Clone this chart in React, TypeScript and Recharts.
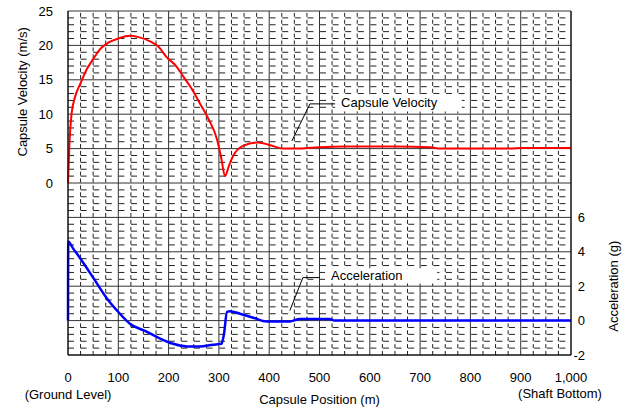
import { ComposedChart, Line, XAxis, YAxis, ReferenceLine, ReferenceArea } from "recharts";

// capsule velocity (m/s) vs position (m)
const velPos = [0, 3, 7, 14, 25, 37, 50, 63, 80, 100, 123, 140, 163, 180, 196, 215, 229, 245, 262, 280, 296, 305, 312, 320, 328, 348, 378, 402, 427, 461, 500, 550, 650, 720, 740, 880, 900, 1000];
const velocity = [0, 6, 10, 12.5, 14.5, 16.5, 18, 19.4, 20.4, 21, 21.4, 21.2, 20.6, 19.8, 18.3, 17, 15.5, 13.8, 11.6, 9.2, 6.4, 3.5, 1, 2.5, 3.9, 5.4, 5.9, 5.5, 5.0, 5.0, 5.2, 5.3, 5.3, 5.2, 5.0, 5.0, 5.1, 5.1];

// acceleration (g) vs position (m)
const accPos = [0, 0.5, 10, 20, 34, 50, 77, 100, 123, 157, 180, 209, 236, 262, 288, 305, 310, 316, 322, 342, 370, 395, 441, 461, 520, 530, 1000];
const acceleration = [0, 4.6, 4.2, 3.8, 3.2, 2.5, 1.3, 0.5, -0.18, -0.65, -1.0, -1.35, -1.5, -1.5, -1.4, -1.35, -0.8, 0.5, 0.55, 0.4, 0.15, -0.05, -0.05, 0.1, 0.1, 0, 0];

const xTicks = [0, 100, 200, 300, 400, 500, 600, 700, 800, 900, 1000];
const velTicks = [0, 5, 10, 15, 20, 25];
const accTicks = [-2, 0, 2, 4, 6];

const velData = velPos.map((x, i) => ({ x, v: velocity[i] }));
const accData = accPos.map((x, i) => ({ x, a: acceleration[i] }));

// grid positions (data units)
const majorX = xTicks;
const minorX: number[] = [];
for (let m = 25; m < 1000; m += 25) if (m % 100 !== 0) minorX.push(m);
const majorY: number[] = [];
const minorY: number[] = [];
for (let v = -25; v <= 25; v++) (v % 5 === 0 ? majorY : minorY).push(v);

const FONT = "'Liberation Sans', Arial, sans-serif";
const tickStyle = { fontSize: 13, fill: "#000", fontFamily: FONT };

function XTick({ x, y, payload }: any) {
  const val = payload.value;
  return (
    <g>
      <text x={x} y={y} dy="0.71em" textAnchor="middle" {...tickStyle}>
        {val.toLocaleString("en-US")}
      </text>
      {val === 0 && (
        <text x={x} y={y + 17} dy="0.71em" textAnchor="middle" {...tickStyle}>
          (Ground Level)
        </text>
      )}
      {val === 1000 && (
        <text x={x - 11} y={y + 16} dy="0.71em" textAnchor="middle" {...tickStyle}>
          (Shaft Bottom)
        </text>
      )}
    </g>
  );
}

function LeftTitle({ viewBox }: any) {
  const cx = viewBox.x + 22;
  const cy = viewBox.y + viewBox.height * 0.235;
  return (
    <text x={cx} y={cy} dy="0.35em" textAnchor="middle" transform={`rotate(-90 ${cx} ${cy})`} {...tickStyle}>
      Capsule Velocity (m/s)
    </text>
  );
}

function RightTitle({ viewBox }: any) {
  const cx = viewBox.x + 42;
  const cy = viewBox.y + viewBox.height * 0.8;
  return (
    <text x={cx} y={cy} dy="0.35em" textAnchor="middle" transform={`rotate(-90 ${cx} ${cy})`} {...tickStyle}>
      Acceleration (g)
    </text>
  );
}

export default function App() {
  return (
    <div style={{ position: "absolute", left: 0, top: 0, fontFamily: FONT, background: "#fff" }}>
      <ComposedChart width={630} height={411} margin={{ top: 11, right: 0, left: 0, bottom: 0 }}>
        <XAxis
          type="number"
          dataKey="x"
          domain={[0, 1000]}
          ticks={xTicks}
          height={56}
          tickSize={0}
          tickMargin={18}
          tickLine={false}
          axisLine={{ stroke: "#000" }}
          tick={<XTick />}
          interval={0}
          label={{ value: "Capsule Position (m)", position: "insideBottom", offset: 7, ...tickStyle }}
        />
        <YAxis
          yAxisId="v"
          type="number"
          domain={[-25, 25]}
          ticks={velTicks}
          width={68}
          tickSize={0}
          tickMargin={15}
          tickLine={false}
          axisLine={{ stroke: "#000" }}
          tick={tickStyle}
          interval={0}
          label={<LeftTitle />}
        />
        <YAxis
          yAxisId="a"
          orientation="right"
          type="number"
          domain={[-2, 18]}
          ticks={accTicks}
          width={59}
          tickSize={0}
          tickMargin={14}
          tickLine={false}
          axisLine={{ stroke: "#000" }}
          tick={{ ...tickStyle, textAnchor: "end" }}
          interval={0}
          label={<RightTitle />}
        />

        {minorY.map((v) => (
          <ReferenceLine key={`hy${v}`} yAxisId="v" y={v} stroke="#222" strokeDasharray="6 6.6" zIndex={50} />
        ))}
        {minorX.map((m) => (
          <ReferenceLine key={`vx${m}`} yAxisId="v" x={m} stroke="#222" strokeDasharray="4 2.9" zIndex={50} />
        ))}
        {majorY.map((v) => (
          <ReferenceLine key={`HY${v}`} yAxisId="v" y={v} stroke="#333" zIndex={55} />
        ))}
        {majorX.map((m) => (
          <ReferenceLine key={`VX${m}`} yAxisId="v" x={m} stroke="#333" zIndex={55} />
        ))}

        <ReferenceArea
          yAxisId="v"
          x1={531}
          x2={783}
          y1={10.4}
          y2={12.9}
          fill="#fff"
          fillOpacity={1}
          stroke="none"
          zIndex={60}
          label={{ value: "Capsule Velocity", position: "insideLeft", offset: 6, ...tickStyle }}
        />
        <ReferenceArea
          yAxisId="a"
          x1={511}
          x2={734}
          y1={2.15}
          y2={3.05}
          fill="#fff"
          fillOpacity={1}
          stroke="none"
          zIndex={60}
          label={{ value: "Acceleration", position: "insideLeft", offset: 6, ...tickStyle }}
        />

        <ReferenceLine yAxisId="v" segment={[{ x: 445, y: 6.1 }, { x: 481, y: 11.5 }]} stroke="#000" zIndex={70} />
        <ReferenceLine yAxisId="v" segment={[{ x: 481, y: 11.5 }, { x: 531, y: 11.5 }]} stroke="#000" zIndex={70} />
        <ReferenceLine yAxisId="a" segment={[{ x: 441, y: 0.58 }, { x: 467, y: 2.5 }]} stroke="#000" zIndex={70} />
        <ReferenceLine yAxisId="a" segment={[{ x: 467, y: 2.5 }, { x: 501, y: 2.5 }]} stroke="#000" zIndex={70} />

        <Line
          yAxisId="v"
          data={velData}
          dataKey="v"
          type="monotone"
          stroke="#ff0000"
          strokeWidth={2}
          dot={false}
          isAnimationActive={false}
        />
        <Line
          yAxisId="a"
          data={accData}
          dataKey="a"
          type="monotone"
          stroke="#0000ff"
          strokeWidth={2.5}
          dot={false}
          isAnimationActive={false}
        />
      </ComposedChart>
    </div>
  );
}
